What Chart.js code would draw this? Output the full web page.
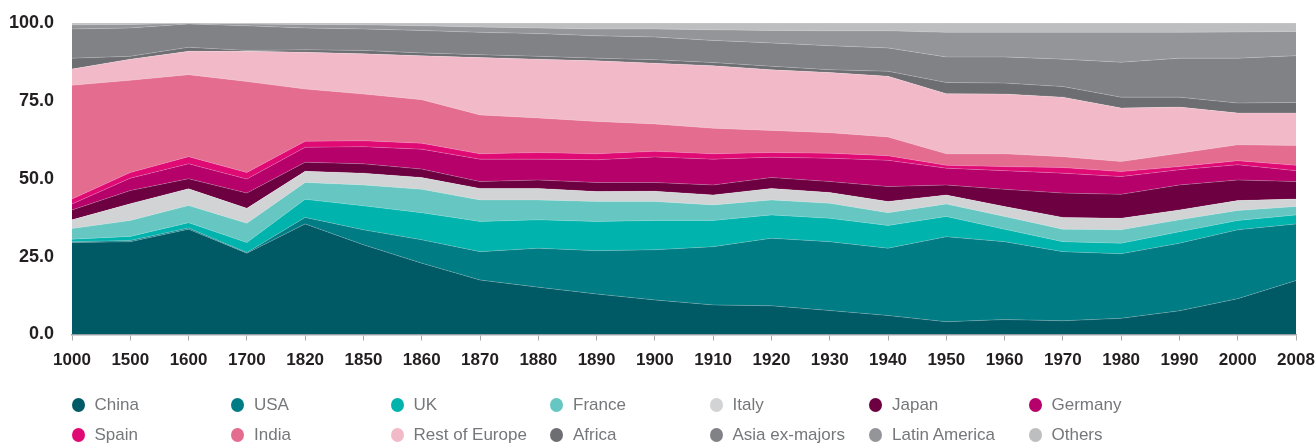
<!DOCTYPE html>
<html><head><meta charset="utf-8">
<script src="https://cdn.jsdelivr.net/npm/chart.js@4"></script>
<style>
html,body{margin:0;padding:0;background:#fff;}
#wrap{position:absolute;left:0;top:0;width:1315px;height:372px;}
#legend{position:absolute;left:0;top:0;width:1315px;height:446px;font-family:"Liberation Sans",Arial,sans-serif;font-size:17px;color:#76777a;pointer-events:none;}
.item{position:absolute;display:flex;align-items:center;white-space:nowrap;height:20px;}
.dot{width:13px;height:14px;border-radius:50%;margin-right:10px;flex:none;}
</style></head>
<body>
<div id="wrap"><canvas id="c"></canvas></div>
<div id="legend"></div>
<script>
const years = ['1000','1500','1600','1700','1820','1850','1860','1870','1880','1890','1900','1910','1920','1930','1940','1950','1960','1970','1980','1990','2000','2008'];
const yTicks = [0, 25, 50, 75, 100];

const china   = [29.5,29.8,33.8,26.1,35.5,28.8,22.9,17.5,15.2,13.0,11.1,9.5,9.2,7.7,6.1,4.1,4.8,4.4,5.2,7.6,11.5,17.3];
const usa     = [0.3,0.4,0.4,0.2,2.1,4.8,7.5,9.1,12.5,13.9,16.1,18.7,21.7,22.1,21.6,27.3,25.0,22.2,20.7,21.7,22.1,18.2];
const uk      = [0.8,1.3,1.7,3.2,5.8,7.7,8.7,9.7,9.1,9.4,9.4,8.4,7.5,7.5,7.3,6.5,4.0,3.2,3.4,3.7,3.0,2.9];
const france  = [3.4,5.1,5.5,6.2,5.4,6.7,7.5,6.9,6.4,6.4,6.1,5.0,4.8,4.8,4.1,4.0,4.1,4.0,4.3,3.8,3.2,2.7];
const italy   = [2.8,5.4,5.4,4.8,3.6,3.8,3.8,3.7,3.7,3.2,3.3,3.2,3.7,3.5,3.6,2.9,3.2,3.8,3.7,3.2,3.2,2.4];
const japan   = [3.2,4.2,3.2,4.9,2.9,3.0,2.7,2.2,2.7,2.9,2.8,3.2,3.5,3.5,4.8,3.2,5.5,7.8,7.7,8.0,6.6,5.6];
const germany = [1.9,4.0,4.8,4.5,4.8,5.5,6.4,7.2,6.7,7.3,8.2,8.3,6.5,7.5,8.4,5.4,6.0,6.4,5.7,4.9,4.9,3.5];
const spain   = [1.6,1.8,2.3,2.1,1.9,1.9,1.9,1.7,2.1,1.9,1.8,1.7,1.5,1.6,1.5,0.9,1.3,1.8,1.6,1.0,1.3,1.7];
const india   = [36.5,29.6,26.3,29.2,16.8,15.0,14.0,12.5,11.1,10.4,8.8,8.2,7.1,6.6,6.0,3.7,4.1,3.5,3.2,4.3,5.1,6.4];
const restEu  = [5.2,6.8,7.5,9.7,11.8,12.9,14.1,18.4,18.9,19.5,19.5,20.1,19.5,19.3,19.5,19.3,19.2,19.1,17.2,14.8,10.2,10.4];
const africa  = [3.5,0.9,1.3,0.3,0.8,1.1,0.9,0.9,0.9,0.8,1.1,1.0,1.1,0.9,1.6,3.6,3.5,3.4,3.5,3.2,3.2,3.4];
const asiaEx  = [9.4,9.1,7.5,7.9,7.0,6.9,7.2,7.2,7.3,7.2,7.3,7.1,7.5,7.7,7.5,8.2,8.4,8.8,11.2,12.5,14.4,15.0];
const latAm   = [1.3,1.1,0.2,0.6,1.1,1.3,1.5,1.7,1.8,2.2,2.6,3.4,4.0,4.8,5.5,7.9,7.9,8.6,9.6,8.3,8.4,7.8];
const others  = [0.6,0.5,0.1,0.3,0.5,0.6,0.9,1.3,1.6,1.9,1.9,2.2,2.4,2.5,2.5,3.0,3.0,3.0,3.0,3.0,2.9,2.7];

const seriesNames = ['China','USA','UK','France','Italy','Japan','Germany','Spain','India','Rest of Europe','Africa','Asia ex-majors','Latin America','Others'];
const seriesData = [china,usa,uk,france,italy,japan,germany,spain,india,restEu,africa,asiaEx,latAm,others];
const seriesColors = ['#005a66','#007c84','#00b3ac','#66c6c1','#d1d3d4','#6d0040','#b6006a','#df0a74','#e46c8f','#f2bac9','#6d6e72','#808286','#939598','#bcbec0'];

const datasets = seriesNames.map((n,i)=>({
  label:n,
  data:seriesData[i],
  backgroundColor:seriesColors[i],
  borderColor:'rgba(255,255,255,0.28)',
  borderWidth:0.7,
  pointRadius:0,
  tension:0,
  fill: i===0 ? 'origin' : '-1'
}));

const family = '"Liberation Sans", Arial, sans-serif';

new Chart(document.getElementById('c'), {
  type:'line',
  data:{labels:years, datasets},
  options:{
    responsive:true, maintainAspectRatio:false, animation:false,
    layout:{padding:{top:23,right:19,left:0,bottom:0}},
    plugins:{legend:{display:false}, tooltip:{enabled:false}},
    elements:{line:{borderJoinStyle:'round'}},
    scales:{
      x:{
        offset:false,
        grid:{display:true, drawOnChartArea:false, drawTicks:true, tickLength:6, color:'#a7a9ac', lineWidth:1},
        border:{display:true, color:'#a7a9ac', width:1.5},
        ticks:{color:'#231f20', font:{family, size:17, weight:'bold'}, padding:10, maxRotation:0, autoSkip:false},
        afterFit:(s)=>{ s.height = 37.5; s.paddingLeft = 0; s.paddingRight = 0; }
      },
      y:{
        stacked:true, min:0, max:100,
        afterBuildTicks:(s)=>{ s.ticks = yTicks.map(v=>({value:v})); },
        grid:{display:false, drawTicks:false},
        border:{display:false},
        ticks:{color:'#231f20', font:{family, size:18, weight:'bold'}, padding:18, callback:(v)=>Number(v).toFixed(1)},
        afterFit:(s)=>{ s.width = 72; s.paddingTop = 0; s.paddingBottom = 0; }
      }
    }
  }
});

// HTML legend, 2 rows x 7 columns
const leg = document.getElementById('legend');
seriesNames.forEach((n,i)=>{
  const row = Math.floor(i/7), col = i%7;
  const el = document.createElement('div');
  el.className='item';
  el.style.left = (71.5 + col*159.5) + 'px';
  el.style.top = (395 + row*30) + 'px';
  const d = document.createElement('span'); d.className='dot'; d.style.background = seriesColors[i];
  const t = document.createElement('span'); t.textContent = n;
  el.appendChild(d); el.appendChild(t);
  leg.appendChild(el);
});
</script>
</body></html>
